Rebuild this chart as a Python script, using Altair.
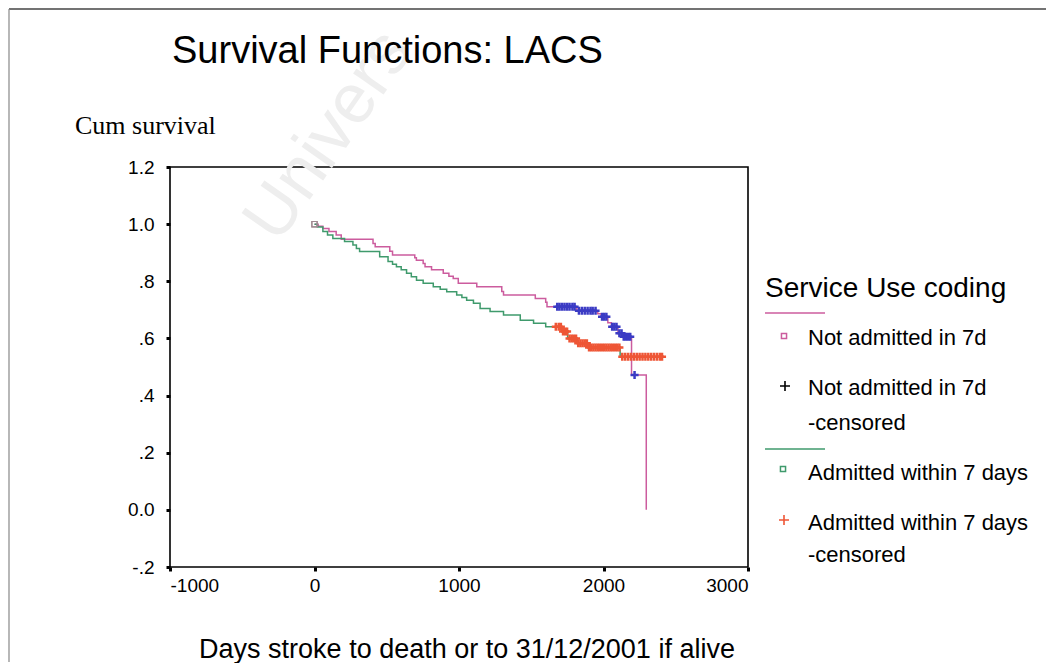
import altair as alt
import pandas as pd

# ---- Data ----
# Not admitted in 7d: Kaplan-Meier step curve (day, cumulative survival)
na_days = [0, 25, 58, 100, 150, 185, 405, 420, 521, 540, 694, 705, 752, 765, 810, 891, 930, 960,
           995, 1123, 1296, 1308, 1528, 1600, 1609, 1815, 1960, 1985, 2030, 2055, 2100, 2135, 2194, 2296]
na_surv = [1.0, 0.993, 0.985, 0.974, 0.962, 0.947, 0.932, 0.921, 0.905, 0.892, 0.882, 0.874, 0.862,
           0.851, 0.840, 0.828, 0.818, 0.810, 0.793, 0.781, 0.764, 0.752, 0.740, 0.727, 0.711, 0.697,
           0.686, 0.676, 0.655, 0.641, 0.618, 0.606, 0.472, 0.0]
# Not admitted in 7d - censored
na_cens_days = [1680, 1695, 1712, 1730, 1748, 1765, 1785, 1800, 1830, 1850, 1870, 1890, 1910, 1925,
                1945, 1990, 2005, 2020, 2060, 2075, 2090, 2110, 2125, 2140, 2155, 2170, 2185, 2215]
na_cens_surv = [0.711, 0.711, 0.711, 0.711, 0.711, 0.711, 0.711, 0.711, 0.697, 0.697, 0.697, 0.697,
                0.697, 0.697, 0.697, 0.676, 0.676, 0.676, 0.641, 0.641, 0.641, 0.618, 0.618, 0.606,
                0.606, 0.606, 0.606, 0.472]

# Admitted within 7 days: step curve
ad_days = [0, 20, 58, 90, 127, 208, 266, 290, 312, 451, 509, 540, 567, 600, 637, 670, 706, 752, 822,
           870, 915, 984, 1020, 1053, 1100, 1146, 1215, 1308, 1424, 1516, 1600, 1712, 1752, 1818, 1890,
           2115, 2407]
ad_surv = [1.0, 0.99, 0.974, 0.962, 0.95, 0.939, 0.927, 0.915, 0.904, 0.886, 0.869, 0.86, 0.851, 0.84,
           0.828, 0.816, 0.804, 0.793, 0.781, 0.772, 0.763, 0.752, 0.743, 0.734, 0.723, 0.705, 0.694,
           0.682, 0.664, 0.653, 0.641, 0.624, 0.600, 0.583, 0.568, 0.536, 0.536]
# Admitted within 7 days - censored
ad_cens_days = [1670, 1690, 1705, 1720, 1735, 1748, 1765, 1780, 1795, 1810, 1825, 1840, 1855, 1870,
                1885, 1900, 1915, 1930, 1945, 1960, 1975, 1990, 2005, 2020, 2035, 2050, 2065, 2080,
                2095, 2110, 2130, 2150, 2170, 2190, 2210, 2230, 2250, 2270, 2290, 2310, 2330, 2350,
                2370, 2390, 2405]
ad_cens_surv = [0.641, 0.641, 0.641, 0.624, 0.624, 0.624, 0.600, 0.600, 0.600, 0.600, 0.583, 0.583,
                0.583, 0.583, 0.583, 0.568, 0.568, 0.568, 0.568, 0.568, 0.568, 0.568, 0.568, 0.568,
                0.568, 0.568, 0.568, 0.568, 0.568, 0.568, 0.536, 0.536, 0.536, 0.536, 0.536, 0.536,
                0.536, 0.536, 0.536, 0.536, 0.536, 0.536, 0.536, 0.536, 0.536]

x_ticks = [-1000, 0, 1000, 2000, 3000]
y_ticks = [-0.2, 0.0, 0.2, 0.4, 0.6, 0.8, 1.0, 1.2]

PINK = "#cc5c9e"
GREEN = "#3f9a6c"
BLUE = "#3b3bc4"
RED = "#ee5636"
FONT = "Liberation Sans"
PLUS = "M-1,0L1,0M0,-1L0,1"

W, H = 578, 400

na = pd.DataFrame({"day": na_days, "surv": na_surv})
ad = pd.DataFrame({"day": ad_days, "surv": ad_surv})
na_c = pd.DataFrame({"day": na_cens_days, "surv": na_cens_surv})
ad_c = pd.DataFrame({"day": ad_cens_days, "surv": ad_cens_surv})

xenc = alt.X("day:Q", scale=alt.Scale(domain=[-1000, 3000], nice=False, zero=False),
             axis=alt.Axis(values=x_ticks, title=None, grid=False, domain=False,
                           tickSize=4, tickWidth=3, tickColor="black", labelFont=FONT,
                           labelFontSize=19, labelColor="black", labelPadding=5,
                           labelExpr="datum.value < 0 ? '-' + format(-datum.value, 'd') : format(datum.value, 'd')"))
yenc = alt.Y("surv:Q", scale=alt.Scale(domain=[-0.2, 1.2], nice=False, zero=False),
             axis=alt.Axis(values=y_ticks, title=None, grid=False, domain=False,
                           tickSize=4, tickWidth=3, tickColor="black", labelFont=FONT,
                           labelFontSize=19, labelColor="black", labelPadding=12,
                           labelExpr="datum.value == 0 ? '0.0' : (datum.value < 0 ? '-' : '') + replace(format(abs(datum.value), '.1f'), '0.', '.')"))

one = pd.DataFrame({"k": [0]})


def txt(s, x, y, size, font=FONT, color="black", align="left", baseline="middle", angle=0):
    kw = dict(align=align, baseline=baseline, font=font, fontSize=size, color=color, text=s)
    if angle:
        kw["angle"] = angle
    return alt.Chart(one).mark_text(**kw).encode(x=alt.value(x), y=alt.value(y))


def hrule(x1, x2, y, color, width=1.5):
    return alt.Chart(one).mark_rule(color=color, strokeWidth=width).encode(
        x=alt.value(x1), x2=alt.value(x2), y=alt.value(y))


def vrule(x, y1, y2, color, width=1.5):
    return alt.Chart(one).mark_rule(color=color, strokeWidth=width).encode(
        x=alt.value(x), y=alt.value(y1), y2=alt.value(y2))


def sym(x, y, shape, color, size, sw=1.5):
    return alt.Chart(one).mark_point(shape=shape, filled=False, color=color, size=size,
                                     strokeWidth=sw, opacity=1).encode(
        x=alt.value(x), y=alt.value(y))


watermark = txt("Univers", 108, 78, 70, color="#eeeeee", baseline="alphabetic", angle=305)

na_line = alt.Chart(na).mark_line(interpolate="step-after", color=PINK, strokeWidth=1.5).encode(
    x=xenc, y=yenc)
ad_line = alt.Chart(ad).mark_line(interpolate="step-after", color=GREEN, strokeWidth=1.5).encode(
    x=xenc, y=yenc)
start_pts = alt.Chart(pd.DataFrame({"day": [0, 0], "surv": [1.0, 1.0]})).mark_point(
    shape="square", filled=False, color="#a08890", size=28, strokeWidth=1.2, opacity=1).encode(
    x=xenc, y=yenc)
na_cross = alt.Chart(na_c).mark_point(shape=PLUS, filled=False, color=BLUE, size=65,
                                      strokeWidth=2.5, opacity=1).encode(x=xenc, y=yenc)
ad_cross = alt.Chart(ad_c).mark_point(shape=PLUS, filled=False, color=RED, size=65,
                                      strokeWidth=2.5, opacity=1).encode(x=xenc, y=yenc)

layers = [
    watermark,
    na_line, ad_line, start_pts, ad_cross, na_cross,
    # titles
    txt("Survival Functions: LACS", 2, -104, 38, baseline="alphabetic"),
    txt("Cum survival", -95, -33, 26, font="Liberation Serif", baseline="alphabetic"),
    txt("Days stroke to death or to 31/12/2001 if alive", 297, 491, 27, align="center",
        baseline="alphabetic"),
    # legend
    txt("Service Use coding", 595, 130, 28, baseline="alphabetic"),
    hrule(595, 655, 146, PINK),
    sym(614, 169, "square", PINK, 26),
    txt("Not admitted in 7d", 638, 171, 22),
    sym(615, 219, PLUS, "black", 100, 1.6),
    txt("Not admitted in 7d", 638, 221, 22),
    txt("-censored", 638, 256, 22),
    hrule(595, 655, 282, GREEN),
    sym(613, 302, "square", GREEN, 26),
    txt("Admitted within 7 days", 638, 306, 22),
    sym(614, 353, PLUS, RED, 100, 1.6),
    txt("Admitted within 7 days", 638, 356, 22),
    txt("-censored", 638, 388, 22),
    # outer border of the figure
    hrule(-161, 876, -158, "#444444", 1.5),
    vrule(-161, -158, 495, "#888888", 1.2),
]

chart = alt.layer(*layers).properties(
    width=W, height=H,
    autosize=alt.AutoSizeParams(type="none"),
    padding={"left": 162, "top": 159, "right": 298, "bottom": 96},
    background="white",
).configure_view(stroke="black", strokeWidth=1.6)

chart.save("out.html", embed_options={"renderer": "svg", "actions": False})
